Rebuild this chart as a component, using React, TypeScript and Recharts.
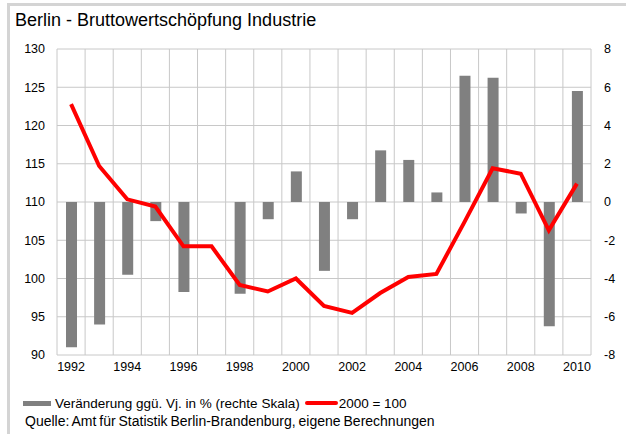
import { ComposedChart, Bar, Line, XAxis, YAxis, CartesianGrid } from 'recharts';

const YEARS = ['1992', '1993', '1994', '1995', '1996', '1997', '1998', '1999', '2000', '2001', '2002', '2003', '2004', '2005', '2006', '2007', '2008', '2009', '2010'];
// Veränderung ggü. Vorjahr in % (rechte Skala)
const CHANGE = [-7.6, -6.4, -3.8, -1.0, -4.7, 0, -4.8, -0.9, 1.6, -3.6, -0.9, 2.7, 2.2, 0.5, 6.6, 6.5, -0.6, -6.5, 5.8];
// Index 2000 = 100
const INDEX = [122.8, 114.7, 110.35, 109.4, 104.2, 104.2, 99.15, 98.3, 100.0, 96.4, 95.5, 98.1, 100.2, 100.6, 107.4, 114.4, 113.7, 106.3, 112.4];

const LEFT_TICKS = [90, 95, 100, 105, 110, 115, 120, 125, 130];
const RIGHT_TICKS = [-8, -6, -4, -2, 0, 2, 4, 6, 8];

const FONT = '"Liberation Sans", Arial, sans-serif';
const GRID = '#c8c8c8';

const data = YEARS.map((year, i) => ({ year, change: CHANGE[i], index: INDEX[i] }));

// Gitterlinien zwischen den Kategorien (wie in Excel)
const boundaryLines = ({ offset }: any) =>
  Array.from({ length: YEARS.length + 1 }, (_, i) => offset.left + (i * offset.width) / YEARS.length);

export default function App() {
  return (
    <div style={{ position: 'absolute', left: 0, top: 0, width: 626, height: 434, background: '#fff', overflow: 'hidden' }}>
      {/* Rahmen */}
      <div style={{ position: 'absolute', left: 7, top: 3, width: 3, height: 431, background: '#d4d4d4' }} />
      <div style={{ position: 'absolute', left: 7, top: 3, width: 619, height: 3, background: '#d4d4d4' }} />

      <div style={{ position: 'absolute', left: 15, top: 9, fontFamily: FONT, fontSize: 18, lineHeight: '22px', color: '#000', whiteSpace: 'nowrap' }}>
        Berlin - Bruttowertschöpfung Industrie
      </div>

      <ComposedChart width={626} height={434} data={data} margin={{ top: 49, right: 0, bottom: 54, left: 0 }}>
        <CartesianGrid
          yAxisId="left"
          stroke={GRID}
          strokeWidth={1}
          verticalCoordinatesGenerator={boundaryLines}
        />
        <XAxis
          dataKey="year"
          interval={1}
          height={25}
          axisLine={false}
          tickLine={false}
          tickSize={0}
          tickMargin={7}
          tick={{ fill: '#000', fontSize: 12.5, fontFamily: FONT }}
        />
        <YAxis
          yAxisId="left"
          orientation="left"
          width={57}
          domain={[90, 130]}
          ticks={LEFT_TICKS}
          axisLine={false}
          tickLine={false}
          tickSize={0}
          tickMargin={12}
          tick={{ fill: '#000', fontSize: 12.5, fontFamily: FONT }}
        />
        <YAxis
          yAxisId="right"
          orientation="right"
          width={35}
          domain={[-8, 8]}
          ticks={RIGHT_TICKS}
          axisLine={false}
          tickLine={false}
          tickSize={0}
          tickMargin={13}
          tick={{ fill: '#000', fontSize: 12.5, fontFamily: FONT, textAnchor: 'start' }}
        />
        <Bar yAxisId="right" dataKey="change" fill="#808080" barSize={11} isAnimationActive={false} />
        <Line
          yAxisId="left"
          type="linear"
          dataKey="index"
          stroke="#ff0000"
          strokeWidth={4}
          dot={false}
          activeDot={false}
          isAnimationActive={false}
        />
      </ComposedChart>

      {/* Legende */}
      <div style={{ position: 'absolute', left: 23, top: 395, height: 16, display: 'flex', alignItems: 'center', fontFamily: FONT, fontSize: 13.5, color: '#000', whiteSpace: 'nowrap' }}>
        <span style={{ display: 'inline-block', width: 28, height: 5, background: '#808080', marginRight: 4 }} />
        <span>Veränderung ggü. Vj. in % (rechte Skala)</span>
        <span style={{ display: 'inline-block', width: 33, height: 4, borderRadius: 2, background: '#ff0000', marginLeft: 5, marginRight: 1 }} />
        <span>2000 = 100</span>
      </div>

      <div style={{ position: 'absolute', left: 25, top: 413, fontFamily: FONT, fontSize: 14, lineHeight: '16px', color: '#000', whiteSpace: 'nowrap', wordSpacing: -1 }}>
        Quelle: Amt für Statistik Berlin-Brandenburg, eigene Berechnungen
      </div>
    </div>
  );
}
